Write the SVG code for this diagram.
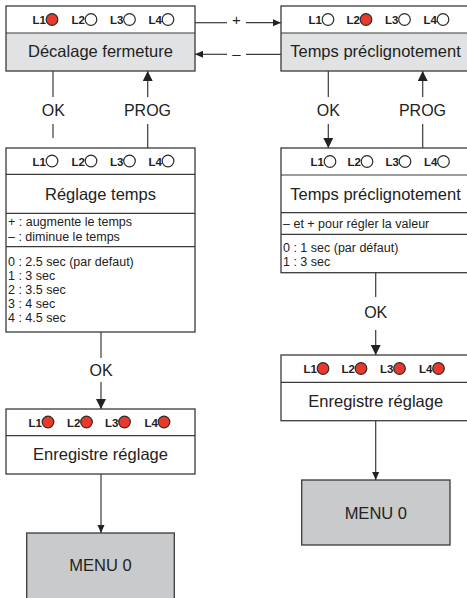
<svg xmlns="http://www.w3.org/2000/svg" width="467" height="598" viewBox="0 0 467 598">
<defs>
<style>
.box{fill:none;stroke:#3a3a3a;stroke-width:1.3}
.bg{fill:#ffffff}
.gr{fill:#e1e2e3}
.mn{fill:#c9cacc;stroke:#3a3a3a;stroke-width:1.3}
.dv{stroke:#3a3a3a;stroke-width:1.2}
.ln{stroke:#3a3a3a;stroke-width:1.2;fill:none}
.led{font-family:"Liberation Sans",Arial,sans-serif;font-weight:bold;font-size:11.5px;fill:#222;text-anchor:end}
.off{fill:#ffffff;stroke:#2a2a2a;stroke-width:1.2}
.on{fill:#e8392a;stroke:#2a2a2a;stroke-width:1.2}
.t{font-family:"Liberation Sans",Arial,sans-serif;font-size:16.5px;fill:#222;text-anchor:middle}
.s{font-family:"Liberation Sans",Arial,sans-serif;font-size:12.5px;fill:#222}
.lb{font-family:"Liberation Sans",Arial,sans-serif;font-size:16px;fill:#222;text-anchor:middle}
.pm{font-family:"Liberation Sans",Arial,sans-serif;font-size:15px;fill:#222;text-anchor:middle}
</style>
<marker id="arr" markerWidth="10" markerHeight="10" refX="10" refY="5" orient="auto" markerUnits="userSpaceOnUse"><path d="M0,0 L10,5 L0,10 z" fill="#222"/></marker>
<marker id="arrs" markerWidth="8" markerHeight="8" refX="8" refY="4" orient="auto" markerUnits="userSpaceOnUse"><path d="M0,0.5 L8,4 L0,7.5 z" fill="#222"/></marker>
</defs>

<g id="n-decalage">
<rect class="bg" x="6" y="6" width="189" height="65"/>
<rect class="gr" x="6" y="33" width="189" height="38"/>
<line class="dv" x1="6" y1="33" x2="195" y2="33"/>
<rect class="box" x="6" y="6" width="189" height="65"/>
<text class="led" x="46" y="24">L1</text><circle class="on" cx="52" cy="19.5" r="5.8"/>
<text class="led" x="85" y="24">L2</text><circle class="off" cx="91" cy="19.5" r="5.8"/>
<text class="led" x="123.5" y="24">L3</text><circle class="off" cx="129.5" cy="19.5" r="5.8"/>
<text class="led" x="162" y="24">L4</text><circle class="off" cx="168" cy="19.5" r="5.8"/>
<text class="t" x="100.5" y="57">Décalage fermeture</text>
</g>

<g id="n-preclig">
<rect class="bg" x="281" y="6" width="192" height="65"/>
<rect class="gr" x="281" y="33" width="192" height="38"/>
<line class="dv" x1="281" y1="33" x2="473" y2="33"/>
<rect class="box" x="281" y="6" width="192" height="65"/>
<text class="led" x="322" y="24">L1</text><circle class="off" cx="328" cy="19.5" r="5.8"/>
<text class="led" x="360" y="24">L2</text><circle class="on" cx="366" cy="19.5" r="5.8"/>
<text class="led" x="398.5" y="24">L3</text><circle class="off" cx="404.5" cy="19.5" r="5.8"/>
<text class="led" x="437" y="24">L4</text><circle class="off" cx="443" cy="19.5" r="5.8"/>
<text class="t" x="375.5" y="57">Temps préclignotement</text>
</g>

<g id="n-reglage">
<rect class="bg" x="6" y="148" width="189" height="184"/>
<line class="dv" x1="6" y1="174.3" x2="195" y2="174.3"/>
<line class="dv" x1="6" y1="213.3" x2="195" y2="213.3"/>
<line class="dv" x1="6" y1="246.7" x2="195" y2="246.7"/>
<rect class="box" x="6" y="148" width="189" height="184"/>
<text class="led" x="46" y="165.5">L1</text><circle class="off" cx="52" cy="161" r="5.8"/>
<text class="led" x="85" y="165.5">L2</text><circle class="off" cx="91" cy="161" r="5.8"/>
<text class="led" x="123.5" y="165.5">L3</text><circle class="off" cx="129.5" cy="161" r="5.8"/>
<text class="led" x="162" y="165.5">L4</text><circle class="off" cx="168" cy="161" r="5.8"/>
<text class="t" x="100.5" y="200">Réglage temps</text>
<text class="s" x="8" y="226">+ : augmente le temps</text>
<text class="s" x="8" y="241">– : diminue le temps</text>
<text class="s" x="8" y="265.5">0 : 2.5 sec (par defaut)</text>
<text class="s" x="8" y="279.5">1 : 3 sec</text>
<text class="s" x="8" y="293.5">2 : 3.5 sec</text>
<text class="s" x="8" y="307.5">3 : 4 sec</text>
<text class="s" x="8" y="321.5">4 : 4.5 sec</text>
</g>

<g id="n-preclig-set">
<rect class="bg" x="281" y="148" width="192" height="124.7"/>
<line class="dv" x1="281" y1="175" x2="473" y2="175"/>
<line class="dv" x1="281" y1="212.7" x2="473" y2="212.7"/>
<line class="dv" x1="281" y1="234.3" x2="473" y2="234.3"/>
<rect class="box" x="281" y="148" width="192" height="124.7"/>
<text class="led" x="324" y="166">L1</text><circle class="off" cx="330" cy="161.5" r="5.8"/>
<text class="led" x="361" y="166">L2</text><circle class="off" cx="367" cy="161.5" r="5.8"/>
<text class="led" x="399" y="166">L3</text><circle class="off" cx="405" cy="161.5" r="5.8"/>
<text class="led" x="437.5" y="166">L4</text><circle class="off" cx="443.5" cy="161.5" r="5.8"/>
<text class="t" x="375.5" y="199.5">Temps préclignotement</text>
<text class="s" x="283" y="228">– et + pour régler la valeur</text>
<text class="s" x="283" y="251.5">0 : 1 sec (par défaut)</text>
<text class="s" x="283" y="265.5">1 : 3 sec</text>
</g>

<g id="n-save-left">
<rect class="bg" x="6" y="409" width="189" height="65"/>
<line class="dv" x1="6" y1="435.7" x2="195" y2="435.7"/>
<rect class="box" x="6" y="409" width="189" height="65"/>
<text class="led" x="42" y="426.5">L1</text><circle class="on" cx="48" cy="422" r="5.8"/>
<text class="led" x="80.5" y="426.5">L2</text><circle class="on" cx="86.5" cy="422" r="5.8"/>
<text class="led" x="118.5" y="426.5">L3</text><circle class="on" cx="124.5" cy="422" r="5.8"/>
<text class="led" x="158" y="426.5">L4</text><circle class="on" cx="164" cy="422" r="5.8"/>
<text class="t" x="100.5" y="459.5">Enregistre réglage</text>
</g>

<g id="n-save-right">
<rect class="bg" x="281" y="355" width="192" height="65.7"/>
<line class="dv" x1="281" y1="382.3" x2="473" y2="382.3"/>
<rect class="box" x="281" y="355" width="192" height="65.7"/>
<text class="led" x="317" y="373">L1</text><circle class="on" cx="323" cy="368.5" r="5.8"/>
<text class="led" x="355" y="373">L2</text><circle class="on" cx="361" cy="368.5" r="5.8"/>
<text class="led" x="393.5" y="373">L3</text><circle class="on" cx="399.5" cy="368.5" r="5.8"/>
<text class="led" x="432.5" y="373">L4</text><circle class="on" cx="438.5" cy="368.5" r="5.8"/>
<text class="t" x="375.7" y="406.7">Enregistre réglage</text>
</g>

<g id="n-menu-left">
<rect class="mn" x="26.7" y="533" width="147.6" height="70"/>
<text class="t" x="100.5" y="571">MENU 0</text>
</g>

<g id="n-menu-right">
<rect class="mn" x="301.7" y="480" width="148.3" height="65"/>
<text class="t" x="375.8" y="518.5">MENU 0</text>
</g>

<g id="connectors">
<line class="ln" x1="195" y1="22.7" x2="227" y2="22.7"/>
<line class="ln" x1="246" y1="22.7" x2="281" y2="22.7" marker-end="url(#arrs)"/>
<text class="pm" x="236.5" y="25">+</text>
<line class="ln" x1="281" y1="54.3" x2="246" y2="54.3"/>
<line class="ln" x1="227" y1="54.3" x2="195" y2="54.3" marker-end="url(#arrs)"/>
<text class="pm" x="236.5" y="58.5">–</text>

<line class="ln" x1="53" y1="71" x2="53" y2="97"/>
<line class="ln" x1="53" y1="124" x2="53" y2="138"/>
<text class="lb" x="53.3" y="115.5">OK</text>
<line class="ln" x1="147.7" y1="148" x2="147.7" y2="124"/>
<line class="ln" x1="147.7" y1="97" x2="147.7" y2="71" marker-end="url(#arr)"/>
<text class="lb" x="147.5" y="115.5">PROG</text>

<line class="ln" x1="328.3" y1="71" x2="328.3" y2="97"/>
<line class="ln" x1="328.3" y1="124" x2="328.3" y2="148" marker-end="url(#arr)"/>
<text class="lb" x="328.3" y="115.5">OK</text>
<line class="ln" x1="422.7" y1="148" x2="422.7" y2="124"/>
<line class="ln" x1="422.7" y1="97" x2="422.7" y2="71" marker-end="url(#arr)"/>
<text class="lb" x="422.5" y="115.5">PROG</text>

<line class="ln" x1="101" y1="332" x2="101" y2="358"/>
<line class="ln" x1="101" y1="382" x2="101" y2="409" marker-end="url(#arr)"/>
<text class="lb" x="101" y="376">OK</text>

<line class="ln" x1="375.7" y1="272.7" x2="375.7" y2="297"/>
<line class="ln" x1="375.7" y1="330" x2="375.7" y2="355" marker-end="url(#arr)"/>
<text class="lb" x="375.7" y="318">OK</text>

<line class="ln" x1="101" y1="474" x2="101" y2="533" marker-end="url(#arrs)"/>
<line class="ln" x1="375.7" y1="420.7" x2="375.7" y2="480" marker-end="url(#arrs)"/>
</g>
</svg>
